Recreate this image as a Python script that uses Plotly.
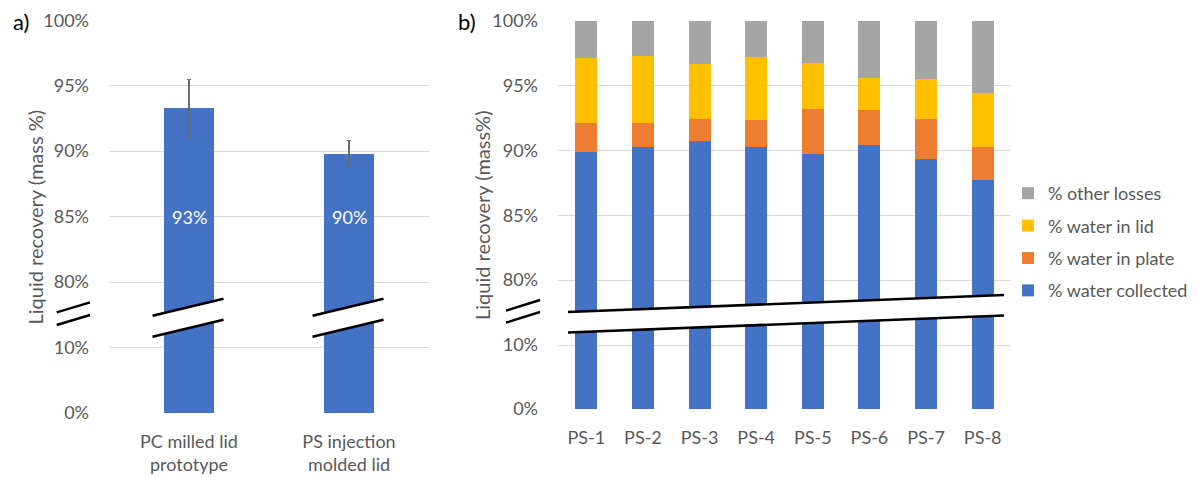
import plotly.graph_objects as go

# ---------------- data ----------------
lid_categories = ["PC milled lid<br>prototype", "PS injection<br>molded lid"]
lid_recovery = [93.3, 89.8]
lid_error = [2.2, 1.0]

ps_categories = ["PS-1", "PS-2", "PS-3", "PS-4", "PS-5", "PS-6", "PS-7", "PS-8"]
water_collected = [89.9, 90.3, 90.7, 90.25, 89.75, 90.4, 89.35, 87.7]
water_in_plate = [2.25, 1.85, 1.7, 2.1, 3.45, 2.7, 3.05, 2.6]
water_in_lid = [5.0, 5.15, 4.3, 4.85, 3.55, 2.5, 3.1, 4.15]
other_losses = [2.85, 2.7, 3.3, 2.8, 3.25, 4.4, 4.5, 5.55]

y_tickvals_low = [0, 10]
y_tickvals_high = [80, 85, 90, 95, 100]

# ---------------- layout helpers ----------------
PAGE_OFF = 8                      # default <body> margin of the html page
W, H = 1198 - PAGE_OFF, 477 - PAGE_OFF
FONT = "Lato"
GREY_TXT = "#595959"
GRID = "#D9D9D9"


def px(x):
    return (x - PAGE_OFF) / W


def py(y):
    return 1 - (y - PAGE_OFF) / H


BLUE, ORANGE, YELLOW, GREY = "#4472C4", "#ED7D31", "#FFC000", "#A5A5A5"

fig = go.Figure()

# ---- panel a ----
for yax in ["y", "y2"]:
    fig.add_trace(go.Bar(
        x=lid_categories, y=lid_recovery, width=0.3125,
        marker=dict(color=BLUE, line=dict(width=0)),
        error_y=dict(type="data", array=lid_error, color="#6b6b6b", thickness=1.2, width=2,
                     visible=(yax == "y2")),
        xaxis="x", yaxis=yax, showlegend=False, hoverinfo="skip"))

# ---- panel b ----
series = [("% water collected", water_collected, BLUE, 4),
          ("% water in plate", water_in_plate, ORANGE, 3),
          ("% water in lid", water_in_lid, YELLOW, 2),
          ("% other losses", other_losses, GREY, 1)]
for yax in ["y3", "y4"]:
    for name, vals, col, rank in series:
        fig.add_trace(go.Bar(
            x=ps_categories, y=vals, name=name, width=0.39,
            marker=dict(color=col, line=dict(width=0)),
            xaxis="x3", yaxis=yax, showlegend=(yax == "y4"),
            legendgroup=name, legendrank=rank, hoverinfo="skip"))

tickfont = dict(family=FONT, size=18, color=GREY_TXT)
ycommon = dict(showgrid=True, gridcolor=GRID, gridwidth=1, zeroline=False, showline=False,
               ticks="", tickfont=tickfont, automargin=False,
               ticklabelstandoff=19, fixedrange=True)

a_break, b_break = 317, 314
layout = dict(
    width=W, height=H, margin=dict(l=0, r=0, t=0, b=0),
    paper_bgcolor="white", plot_bgcolor="white", template="none",
    barmode="stack",
    xaxis=dict(domain=[px(109), px(429)], anchor="y", type="category", showgrid=False,
               showline=False, ticks="", tickfont=tickfont, automargin=False,
               ticklabelstandoff=16, range=[-0.5, 1.5]),
    yaxis=dict(domain=[py(413), py(a_break)], anchor="x", range=[0, (413 - a_break) / 6.55],
               tickvals=y_tickvals_low, ticktext=[f"{v}%" for v in y_tickvals_low], **ycommon),
    yaxis2=dict(domain=[py(a_break), py(20)], anchor="x",
                range=[80 - (a_break - 282) / 13.1, 100.02],
                tickvals=y_tickvals_high, ticktext=[f"{v}%" for v in y_tickvals_high], **ycommon),
    xaxis3=dict(domain=[px(558), px(1011)], anchor="y3", type="category", showgrid=False,
                showline=False, ticks="", tickfont=tickfont, automargin=False,
                ticklabelstandoff=16, range=[-0.5, 7.5]),
    yaxis3=dict(domain=[py(409), py(b_break)], anchor="x3", range=[0, (409 - b_break) / 6.4],
                tickvals=y_tickvals_low, ticktext=[f"{v}%" for v in y_tickvals_low], **ycommon),
    yaxis4=dict(domain=[py(b_break), py(20.7)], anchor="x3",
                range=[80 - (b_break - 280) / 12.97, 100.02],
                tickvals=y_tickvals_high, ticktext=[f"{v}%" for v in y_tickvals_high], **ycommon),
    legend=dict(x=px(1008), y=py(175), xanchor="left", yanchor="top",
                traceorder="grouped", tracegroupgap=6,
                font=dict(family=FONT, size=18, color=GREY_TXT), bgcolor="rgba(0,0,0,0)"),
    showlegend=True,
)
fig.update_layout(**layout)

# ---- annotations: value labels, axis titles, panel letters ----
ann = []
for cat, v in zip(lid_categories, lid_recovery):
    ann.append(dict(x=cat, y=85, xref="x", yref="y2", text=f"{round(v)}%", showarrow=False,
                    xanchor="center", yanchor="middle",
                    font=dict(family=FONT, size=18, color="white")))
ann.append(dict(x=px(34.5), y=py(217), xref="paper", yref="paper", text="Liquid recovery (mass %)",
                textangle=-90, showarrow=False, xanchor="center", yanchor="middle",
                font=dict(family=FONT, size=20, color=GREY_TXT)))
ann.append(dict(x=px(482), y=py(215), xref="paper", yref="paper", text="Liquid recovery (mass%)",
                textangle=-90, showarrow=False, xanchor="center", yanchor="middle",
                font=dict(family=FONT, size=20, color=GREY_TXT)))
ann.append(dict(x=px(21), y=py(22), xref="paper", yref="paper", text="a)", showarrow=False,
                xanchor="center", yanchor="middle", font=dict(family=FONT, size=22, color="black")))
ann.append(dict(x=px(467), y=py(22), xref="paper", yref="paper", text="b)", showarrow=False,
                xanchor="center", yanchor="middle", font=dict(family=FONT, size=22, color="black")))
fig.update_layout(annotations=ann)

# ---- break marks (decoration) ----
shapes = []


def brk(x0, y0u, x1, y1u, gap, lw=2.6):
    y0l, y1l = y0u + gap, y1u + gap
    path = (f"M{px(x0)},{py(y0u)} L{px(x1)},{py(y1u)} L{px(x1)},{py(y1l)} "
            f"L{px(x0)},{py(y0l)} Z")
    shapes.append(dict(type="path", path=path, xref="paper", yref="paper",
                       fillcolor="white", line=dict(width=0), layer="above"))
    for (ya, yb) in [(y0u, y1u), (y0l, y1l)]:
        shapes.append(dict(type="line", x0=px(x0), y0=py(ya), x1=px(x1), y1=py(yb),
                           xref="paper", yref="paper", line=dict(color="black", width=lw),
                           layer="above"))


# panel a: per-bar breaks (centred on each bar)
a_dom0, a_dom1 = 109, 429
for i in range(len(lid_categories)):
    cx = a_dom0 + (i + 0.5) / len(lid_categories) * (a_dom1 - a_dom0)
    brk(cx - 36.5, 315.7, cx + 34.5, 298.7, 21)
# panel a: axis break
brk(56.7, 312.3, 90, 302.3, 12.7, lw=2.4)
# panel b: long break across all bars
brk(568, 312, 1004, 295, 20.5)
# panel b: axis break
brk(506, 310.7, 540, 300, 12, lw=2.4)

fig.update_layout(shapes=shapes)

fig.write_html("out.html")
